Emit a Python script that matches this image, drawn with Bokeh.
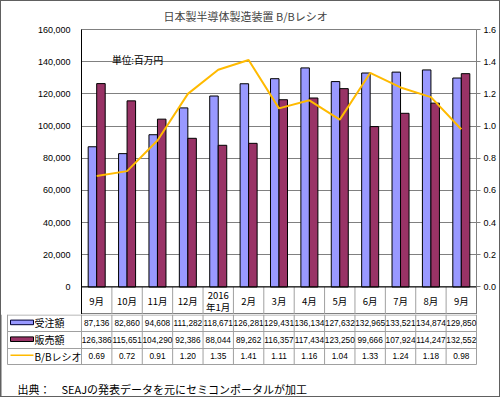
from bokeh.plotting import figure
from bokeh.models import Range1d, LinearAxis, FixedTicker, NumeralTickFormatter, Span, Label
from bokeh.layouts import column
from bokeh.embed import file_html
from bokeh.resources import INLINE
from bokeh.core.properties import value

# ---------------- data ----------------
months = ["9月", "10月", "11月", "12月", "2016\n年1月", "2月", "3月", "4月",
          "5月", "6月", "7月", "8月", "9月"]
orders = [87136, 82860, 94608, 111282, 118671, 126281, 129431, 136134,
          127632, 132965, 133521, 134874, 129850]
sales = [126386, 115651, 104290, 92386, 88044, 89262, 116357, 117434,
         123250, 99666, 107924, 114247, 132552]
bb_ratio = [0.69, 0.72, 0.91, 1.20, 1.35, 1.41, 1.11, 1.16, 1.04, 1.33,
            1.24, 1.18, 0.98]
y_ticks = [0, 20000, 40000, 60000, 80000, 100000, 120000, 140000, 160000]
ratio_ticks = [0.0, 0.2, 0.4, 0.6, 0.8, 1.0, 1.2, 1.4, 1.6]
series_names = ["受注額", "販売額", "B/Bレシオ"]
title_text = "日本製半導体製造装置 B/Bレシオ"
unit_text = "単位:百万円"
source_text = "出典：　SEAJの発表データを元にセミコンポータルが加工"

# ---------------- layout ----------------
W, H = 500, 397
H1 = 314
H2 = H - H1
L, R, T = 81, 24, 24
n = len(months)
cw = (W - L - R) / n
FH = H1 - T
zero_px = 286 - T
ymax = 160000
ymin = -(FH - zero_px) * ymax / zero_px
rscale = 100000.0

BLUE = "#9999FF"
MAROON = "#993366"
GOLD = "#FFBA00"
GRID = "#808080"
TGRID = "#A0A0A0"
FRAME = "#606060"
JP = "Noto Sans CJK JP"
LAT = "Liberation Sans"


def fx(rx):
    return (rx - L) / cw


def fy(ry):
    return ymax - (ry - T) * (ymax - ymin) / FH


def ty(ry):
    return ry - H1


centers = [i + 0.5 for i in range(n)]
bw = 0.28

# ---------------- chart figure ----------------
p1 = figure(width=W, height=H1, x_range=Range1d(0, n), y_range=Range1d(ymin, ymax),
            output_backend="svg", toolbar_location=None, x_axis_location=None,
            min_border_left=L, min_border_right=R, min_border_top=T, min_border_bottom=0,
            background_fill_color="white", border_fill_color=None)
p1.frame_align = False
p1.extra_y_ranges = {"ratio": Range1d(ymin / rscale, ymax / rscale)}
p1.outline_line_color = GRID

p1.title.text = title_text
p1.title.align = "left"
p1.title.offset = 163 - L
p1.title.text_font = JP
p1.title.text_font_style = "normal"
p1.title.text_font_size = "11px"
p1.title.standoff = 11

la = p1.yaxis[0]
la.ticker = FixedTicker(ticks=y_ticks)
la.formatter = NumeralTickFormatter(format="0,0")
la.major_tick_out = 0
la.major_tick_in = 0
la.minor_tick_line_color = None
la.major_label_standoff = 11
la.axis_line_color = "black"
la.major_label_text_font = LAT
la.major_label_text_font_size = "9px"
la.major_label_text_color = "black"

ra = LinearAxis(y_range_name="ratio", ticker=FixedTicker(ticks=ratio_ticks),
                formatter=NumeralTickFormatter(format="0.0"))
ra.major_tick_out = 4
ra.major_tick_in = 0
ra.major_tick_line_color = GRID
ra.minor_tick_line_color = None
ra.axis_line_color = GRID
ra.major_label_standoff = 3
ra.major_label_text_font = LAT
ra.major_label_text_font_size = "9px"
ra.major_label_text_color = "black"
p1.add_layout(ra, "right")

p1.xgrid.visible = False
p1.ygrid.ticker = FixedTicker(ticks=y_ticks)
p1.ygrid.grid_line_color = GRID

p1.vbar(x=[c - bw / 2 for c in centers], top=orders, bottom=0, width=bw,
        fill_color=BLUE, line_color="black", line_width=1)
p1.vbar(x=[c + bw / 2 for c in centers], top=sales, bottom=0, width=bw,
        fill_color=MAROON, line_color="black", line_width=1)
p1.line(x=centers, y=bb_ratio, y_range_name="ratio", line_color=GOLD, line_width=2)

p1.add_layout(Span(location=0, dimension="width", line_color="black", line_width=1))

# header row (month labels + separators)
p1.segment(x0=list(range(1, n)), x1=list(range(1, n)), y0=ymin, y1=0,
           line_color=TGRID, line_width=1)
hx, hy, ht = [], [], []
for c, m in zip(centers, months):
    parts = m.split("\n")
    if len(parts) == 1:
        hx.append(c); hy.append(fy(300)); ht.append(m)
    else:
        hx += [c, c]; hy += [fy(295), fy(306)]; ht += parts
p1.text(x=hx, y=hy, text=ht, text_align="center", text_baseline="middle",
        text_font=value(JP), text_font_size="9.5px", text_color="black")

p1.add_layout(Label(x=fx(111.5), y=fy(55), text=unit_text, text_baseline="middle",
                    text_align="left", text_font=JP, text_font_size="9.7px",
                    text_color="black"))

# ---------------- table figure ----------------
p2 = figure(width=W, height=H2, x_range=Range1d(-L / cw, n + R / cw),
            y_range=Range1d(H2, 0), output_backend="svg", toolbar_location=None,
            x_axis_location=None, y_axis_location=None, min_border=0,
            background_fill_color=None, border_fill_color=None)
p2.frame_align = False
p2.grid.visible = False
p2.outline_line_color = None

xl = fx(7)
yb = ty(364)
p2.segment(x0=list(range(0, n + 1)) + [xl], x1=list(range(0, n + 1)) + [xl],
           y0=0, y1=yb, line_color=TGRID, line_width=1)
hl = [0.5, ty(331), ty(348), yb]
p2.segment(x0=xl, x1=n, y0=hl, y1=hl, line_color=TGRID, line_width=1)

row_y = [ty(322.7), ty(339.7), ty(355.4)]
p2.text(x=centers, y=row_y[0], text=[f"{v:,}" for v in orders], text_align="center",
        text_baseline="middle", text_font=value(LAT), text_font_size="8.3px", text_color="black")
p2.text(x=centers, y=row_y[1], text=[f"{v:,}" for v in sales], text_align="center",
        text_baseline="middle", text_font=value(LAT), text_font_size="8.3px", text_color="black")
p2.text(x=centers, y=row_y[2], text=[f"{v:.2f}" for v in bb_ratio], text_align="center",
        text_baseline="middle", text_font=value(LAT), text_font_size="8.3px", text_color="black")

# legend keys
p2.quad(left=fx(10), right=fx(33), top=ty(319.6), bottom=ty(324.2),
        fill_color=BLUE, line_color="#000033", line_width=1)
p2.quad(left=fx(10), right=fx(33), top=ty(336.4), bottom=ty(341.0),
        fill_color=MAROON, line_color="black", line_width=1)
p2.segment(x0=fx(10), x1=fx(33), y0=ty(354.8), y1=ty(354.8), line_color=GOLD, line_width=1.5)
p2.text(x=fx(34), y=[ty(322.3), ty(339.0), ty(355.7)], text=series_names,
        text_align="left", text_baseline="middle", text_font=value(JP),
        text_font_size="10px", text_color="black")

p2.text(x=[fx(17)], y=[ty(388)], text=[source_text], text_align="left",
        text_baseline="middle", text_font=value(JP), text_font_size="11px",
        text_color="black")

# outer frame of the picture (left, right, bottom edges in the table strip)
p2.segment(x0=[fx(0.5), fx(W - 0.5), fx(0.5)], x1=[fx(0.5), fx(W - 0.5), fx(W - 0.5)],
           y0=[0, 0, H2 - 0.5], y1=[H2, H2, H2 - 0.5], line_color=FRAME, line_width=1)

lay = column(p1, p2, styles={"box-shadow": "inset 0 0 0 1px #606060",
                             "background-color": "white"})
open("out.html", "w").write(file_html(lay, INLINE))
